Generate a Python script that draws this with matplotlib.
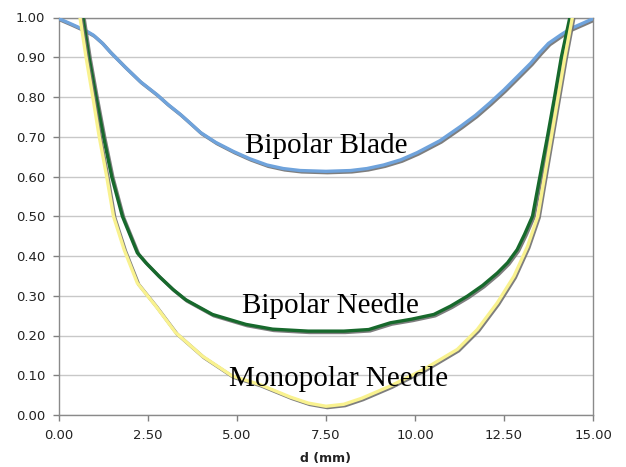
import matplotlib
matplotlib.use("Agg")
import matplotlib.pyplot as plt
import matplotlib.patheffects as pe

# Data
blade_x = [0, 0.31, 0.73, 0.96, 1.2, 1.43, 1.85, 2.28, 2.75, 3.05, 3.4, 3.7, 3.97, 4.4,
           4.9, 5.35, 5.84, 6.3, 6.78, 7.5, 8.19, 8.65, 9.12, 9.6, 10.06, 10.7, 11.28, 11.7,
           12.1, 12.5, 12.87, 13.25, 13.5, 13.75, 14.09, 14.37, 14.7, 15]
blade_y = [0.997, 0.985, 0.968, 0.956, 0.937, 0.914, 0.876, 0.839, 0.806, 0.782, 0.757,
           0.733, 0.711, 0.686, 0.663, 0.645, 0.629, 0.62, 0.615, 0.613, 0.615, 0.62, 0.629,
           0.642, 0.66, 0.69, 0.726, 0.754, 0.785, 0.818, 0.851, 0.885, 0.911, 0.935, 0.956,
           0.972, 0.985, 0.997]

bineedle_x = [0.67, 0.84, 1.04, 1.25, 1.48, 1.78, 2.2, 2.44, 2.81, 3.2, 3.56, 4.31, 5.25,
              6.0, 7.0, 8.0, 8.7, 9.31, 9.9, 10.53, 11.0, 11.47, 11.9, 12.31, 12.6, 12.87,
              13.08, 13.3, 13.51, 13.72, 13.92, 14.11, 14.35]
bineedle_y = [1.0, 0.9, 0.8, 0.7, 0.6, 0.5, 0.408, 0.383, 0.349, 0.316, 0.29, 0.253, 0.228,
              0.216, 0.211, 0.211, 0.215, 0.232, 0.241, 0.253, 0.274, 0.299, 0.326, 0.357,
              0.383, 0.416, 0.455, 0.5, 0.6, 0.7, 0.8, 0.9, 1.0]

mononeedle_x = [0.59, 0.76, 0.95, 1.13, 1.34, 1.53, 1.83, 2.2, 2.72, 3.28, 4.03, 4.87, 5.63,
                6.5, 7.0, 7.5, 8.0, 8.5, 9.31, 10.25, 11.19, 11.75, 12.31, 12.78, 13.16,
                13.45, 13.64, 13.83, 14.02, 14.21, 14.42]
mononeedle_y = [1.0, 0.9, 0.8, 0.7, 0.6, 0.5, 0.416, 0.332, 0.274, 0.207, 0.148, 0.098,
                0.077, 0.045, 0.03, 0.022, 0.027, 0.042, 0.073, 0.115, 0.165, 0.215, 0.282,
                0.349, 0.424, 0.5, 0.6, 0.7, 0.8, 0.9, 1.0]

labels = ["Bipolar Blade", "Bipolar Needle", "Monopolar Needle"]
label_x = [7.5, 7.62, 7.86]
label_y = [0.659, 0.257, 0.073]

xticks = [0, 2.5, 5, 7.5, 10, 12.5, 15]
yticks = [i / 10 for i in range(11)]

fig = plt.figure(figsize=(6.26, 4.67), dpi=100)
ax = fig.add_axes([59 / 626, 1 - 415 / 467, (593 - 59) / 626, (415 - 17.5) / 467])

shadow = [pe.SimpleLineShadow(offset=(1.0, -1.0), shadow_color="#707070", alpha=0.9),
          pe.Normal()]

ax.plot(blade_x, blade_y, color="#6fa3dc", lw=2.4, path_effects=shadow, zorder=3,
        solid_capstyle="round", solid_joinstyle="round")
ax.plot(bineedle_x, bineedle_y, color="#17692c", lw=2.4, path_effects=shadow, zorder=4,
        solid_capstyle="round", solid_joinstyle="round")
ax.plot(mononeedle_x, mononeedle_y, color="#f9f28f", lw=2.4, path_effects=shadow, zorder=5,
        solid_capstyle="round", solid_joinstyle="round")

for t, x, y in zip(labels, label_x, label_y):
    ax.text(x, y, t, ha="center", va="baseline", fontsize=21,
            family="Liberation Serif", color="black", zorder=6)

ax.set_xlim(0, 15)
ax.set_ylim(0, 1)
ax.set_xticks(xticks)
ax.set_xticklabels([f"{v:.2f}" for v in xticks])
ax.set_yticks(yticks)
ax.set_yticklabels([f"{v:.2f}" for v in yticks])
ax.tick_params(axis="both", labelsize=9.5, colors="#222222", length=4, width=1,
               direction="out")
ax.tick_params(axis="x", pad=6, color="#808080")
ax.tick_params(axis="y", pad=6, color="#808080")
ax.grid(axis="y", color="#c8c8c8", lw=1)
ax.set_axisbelow(True)
for s in ax.spines.values():
    s.set_color("#8a8a8a")
    s.set_linewidth(1)
ax.set_xlabel("d (mm)", fontsize=9, fontweight="bold", labelpad=7, color="#222222")

fig.savefig("out.png", dpi=100)
